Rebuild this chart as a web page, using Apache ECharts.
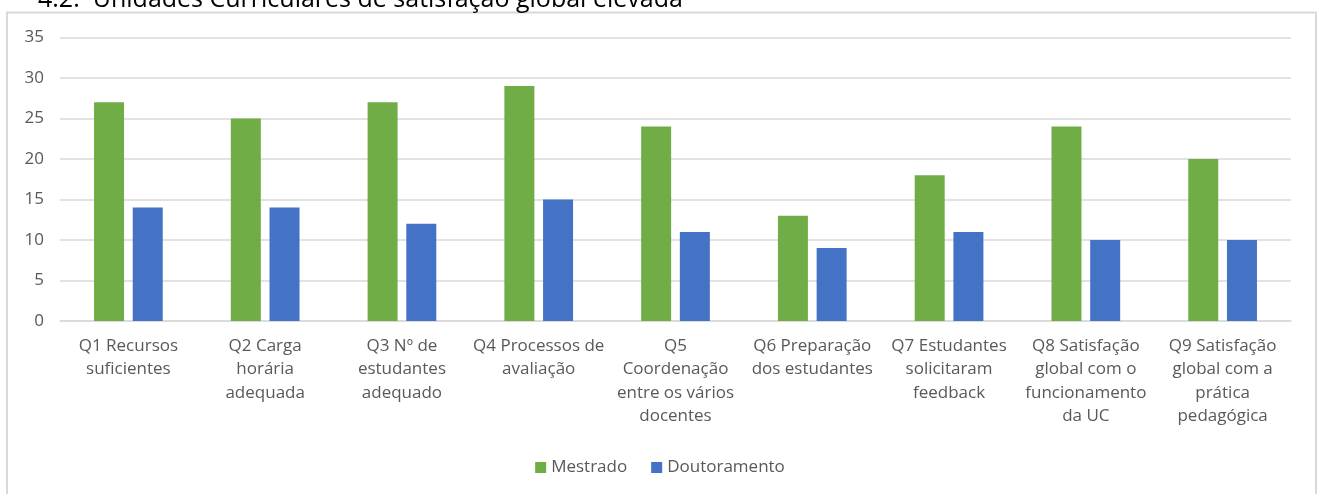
<!DOCTYPE html>
<html>
<head>
<meta charset="utf-8">
<script src="https://cdn.jsdelivr.net/npm/echarts@6/dist/echarts.min.js"></script>
<style>
  html, body { margin: 0; padding: 0; background: #fff; }
  #chart { width: 1320px; height: 494px; }
</style>
</head>
<body>
<div id="chart"></div>
<script>
// categorias (com quebras de linha como no original)
const categories = [
  "Q1 Recursos\nsuficientes",
  "Q2 Carga\nhorária\nadequada",
  "Q3 Nº de\nestudantes\nadequado",
  "Q4 Processos de\navaliação",
  "Q5\nCoordenação\nentre os vários\ndocentes",
  "Q6 Preparação\ndos estudantes",
  "Q7 Estudantes\nsolicitaram\nfeedback",
  "Q8 Satisfação\nglobal com o\nfuncionamento\nda UC",
  "Q9 Satisfação\nglobal com a\nprática\npedagógica"
];
const mestrado = [27, 25, 27, 29, 24, 13, 18, 24, 20];
const doutoramento = [14, 14, 12, 15, 11, 9, 11, 10, 10];

const FONT = "'Open Sans', 'Noto Sans', sans-serif";
const GREY = "#595959";

const chart = echarts.init(document.getElementById("chart"));

chart.setOption({
  animation: false,
  textStyle: { fontFamily: FONT },
  grid: { left: 60, right: 29, top: 37.5, bottom: 173 },
  legend: {
    data: ["Mestrado", "Doutoramento"],
    bottom: 13,
    left: "center",
    itemWidth: 11,
    itemHeight: 11,
    itemGap: 24,
    icon: "rect",
    textStyle: { color: GREY, fontSize: 17, fontFamily: FONT }
  },
  xAxis: {
    type: "category",
    data: categories,
    axisLine: { lineStyle: { color: "#d9d9d9", width: 1.5 } },
    axisTick: { show: false },
    axisLabel: {
      color: GREY,
      fontSize: 17,
      lineHeight: 23.5,
      margin: 13,
      interval: 0,
      fontFamily: FONT
    }
  },
  yAxis: {
    type: "value",
    min: 0,
    max: 35,
    interval: 5,
    axisLine: { show: false },
    axisTick: { show: false },
    splitLine: { lineStyle: { color: "#d9d9d9", width: 1.5 } },
    axisLabel: { color: GREY, fontSize: 17, margin: 16, fontFamily: FONT }
  },
  series: [
    {
      name: "Mestrado",
      type: "bar",
      data: mestrado,
      barWidth: 30,
      barGap: "29%",
      itemStyle: { color: "#70AD47" }
    },
    {
      name: "Doutoramento",
      type: "bar",
      data: doutoramento,
      barWidth: 30,
      itemStyle: { color: "#4472C4" }
    }
  ],
  graphic: [
    {
      type: "rect",
      shape: { x: 7, y: 12.5, width: 1309, height: 500 },
      style: { fill: null, stroke: "#d9d9d9", lineWidth: 2 },
      z: -1
    },
    {
      // título cortado no topo
      type: "text",
      x: 38,
      y: -13,
      style: {
        text: "4.2.  Unidades Curriculares de satisfação global elevada",
        fontSize: 25,
        fontFamily: FONT,
        fill: "#000"
      }
    }
  ]
});
</script>
</body>
</html>
